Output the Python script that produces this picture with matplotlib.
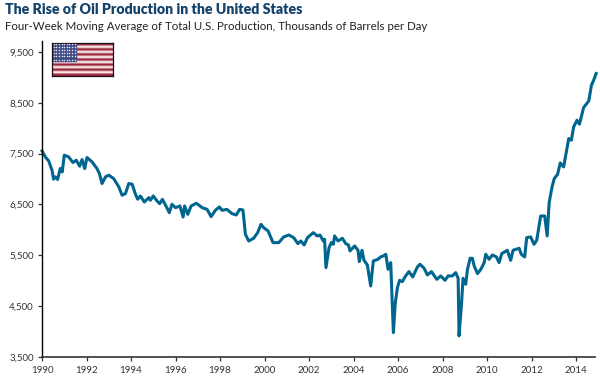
import matplotlib
matplotlib.use('Agg')
import matplotlib.pyplot as plt
import numpy as np

plt.rcParams['font.family'] = ['Lato', 'DejaVu Sans']

# Values
years = [1990.0, 1990.15, 1990.3, 1990.45, 1990.52, 1990.6, 1990.7, 1990.82, 1990.91, 1991.0,
         1991.2, 1991.39, 1991.54, 1991.69, 1991.8, 1991.92, 1992.02, 1992.25, 1992.47, 1992.58,
         1992.7, 1992.85, 1993.0, 1993.22, 1993.45, 1993.6, 1993.75, 1993.9, 1994.05, 1994.2,
         1994.3, 1994.42, 1994.6, 1994.8, 1994.87, 1995.0, 1995.17, 1995.29, 1995.41, 1995.57,
         1995.72, 1995.84, 1996.0, 1996.2, 1996.34, 1996.41, 1996.55, 1996.7, 1996.94, 1997.2,
         1997.42, 1997.6, 1997.79, 1997.97, 1998.09, 1998.31, 1998.54, 1998.73, 1998.88, 1999.03,
         1999.14, 1999.29, 1999.51, 1999.69, 1999.84, 1999.96, 2000.16, 2000.38, 2000.64, 2000.86,
         2001.09, 2001.31, 2001.5, 2001.63, 2001.78, 2001.93, 2002.19, 2002.37, 2002.49, 2002.64,
         2002.7, 2002.76, 2002.9, 2003.0, 2003.09, 2003.15, 2003.3, 2003.5, 2003.65, 2003.77,
         2003.84, 2004.05, 2004.2, 2004.26, 2004.38, 2004.47, 2004.62, 2004.77, 2004.89, 2005.1,
         2005.22, 2005.34, 2005.45, 2005.55, 2005.67, 2005.79, 2005.87, 2005.97, 2006.07, 2006.19,
         2006.34, 2006.49, 2006.66, 2006.87, 2006.99, 2007.17, 2007.32, 2007.5, 2007.74, 2007.92,
         2008.11, 2008.25, 2008.44, 2008.59, 2008.7, 2008.74, 2008.85, 2008.92, 2009.04, 2009.12,
         2009.24, 2009.34, 2009.42, 2009.57, 2009.72, 2009.87, 2009.94, 2010.09, 2010.24, 2010.42,
         2010.54, 2010.66, 2010.91, 2011.06, 2011.17, 2011.44, 2011.54, 2011.69, 2011.78, 2011.96,
         2012.11, 2012.23, 2012.41, 2012.59, 2012.7, 2012.79, 2012.92, 2013.02, 2013.17, 2013.29,
         2013.44, 2013.56, 2013.67, 2013.79, 2013.89, 2014.04, 2014.15, 2014.34, 2014.57, 2014.69,
         2014.79, 2014.9]
production = [7550, 7433, 7354, 7171, 6994, 7040, 6988, 7204, 7138, 7467,
              7433, 7322, 7368, 7250, 7381, 7204, 7421, 7335, 7204, 7106,
              6909, 7040, 7073, 7007, 6843, 6679, 6712, 6909, 6896, 6697,
              6600, 6664, 6546, 6631, 6579, 6664, 6566, 6513, 6598, 6467,
              6336, 6500, 6434, 6467, 6250, 6467, 6303, 6467, 6520, 6434,
              6400, 6257, 6382, 6447, 6382, 6400, 6316, 6290, 6400, 6388,
              5910, 5778, 5831, 5942, 6106, 6041, 5975, 5746, 5746, 5857,
              5896, 5844, 5726, 5778, 5700, 5844, 5942, 5877, 5896, 5778,
              5811, 5254, 5648, 5746, 5713, 5877, 5778, 5831, 5726, 5700,
              5582, 5680, 5595, 5372, 5595, 5398, 5306, 4893, 5385, 5418,
              5464, 5484, 5516, 5221, 5352, 3974, 4532, 4860, 5004, 4978,
              5090, 5175, 5070, 5267, 5320, 5241, 5110, 5175, 5024, 5090,
              5004, 5090, 5090, 5155, 5044, 3910, 4532, 5044, 4926, 5221,
              5438, 5438, 5287, 5136, 5221, 5352, 5516, 5418, 5503, 5464,
              5352, 5530, 5595, 5398, 5595, 5634, 5516, 5464, 5844, 5857,
              5713, 5791, 6270, 6270, 5877, 6533, 6843, 7007, 7092, 7315,
              7236, 7531, 7795, 7762, 8024, 8155, 8077, 8405, 8535, 8845,
              8942, 9075]

year_ticks = list(range(1990, 2015, 2))
value_ticks = [3500, 4500, 5500, 6500, 7500, 8500, 9500]

fig = plt.figure(figsize=(6, 3.83), dpi=100)
ax = fig.add_axes([42 / 600, 1 - 356.7 / 383, (595 - 42) / 600, (356.7 - 41.5) / 383])

ax.plot(years, production, color='#00668f', linewidth=2.2, solid_joinstyle='round', clip_on=False)

ax.set_xlim(1990, 2014.85)
ax.set_ylim(3500, 9705)
ax.set_xticks(year_ticks)
ax.set_yticks(value_ticks)
ax.set_yticklabels([f'{v:,}' for v in value_ticks])
ax.tick_params(axis='both', labelsize=7, colors='#333333', length=3, width=0.9, pad=3)
ax.tick_params(axis='x', length=3, pad=4)
ax.spines['top'].set_visible(False)
ax.spines['right'].set_visible(False)
ax.spines['left'].set_linewidth(1.0)
ax.spines['bottom'].set_linewidth(1.2)
ax.spines['bottom'].set_color('#333333')

fig.text(5 / 600, 1 - 10 / 383, 'The Rise of Oil Production in the United States',
         fontsize=10.2, fontweight='heavy', color='#14426b', va='center')
fig.text(5 / 600, 1 - 26.5 / 383, 'Four-Week Moving Average of Total U.S. Production, Thousands of Barrels per Day',
         fontsize=8.25, color='#222222', va='center')

# Flag
flag = fig.add_axes([52 / 600, 1 - 76 / 383, 61 / 600, 33 / 383])
stripes = np.arange(13).reshape(-1, 1) % 2
flag.imshow(stripes, aspect='auto', extent=(0, 1, 0, 1), cmap=matplotlib.colors.ListedColormap(['#9c2a3e', '#fbe9ea']))
flag.add_patch(plt.Rectangle((0, 6 / 13), 0.4, 7 / 13, color='#3f4a85', zorder=2))
sx, sy = np.meshgrid(np.linspace(0.03, 0.37, 9), np.linspace(0.5, 0.97, 6))
flag.scatter(sx.ravel(), sy.ravel(), s=1.2, color='#e6e6f2', linewidths=0, zorder=3)
flag.set_xlim(0, 1)
flag.set_ylim(0, 1)
flag.set_xticks([])
flag.set_yticks([])
for s in flag.spines.values():
    s.set_linewidth(0.9)
    s.set_color('#1a1014')

fig.savefig('out.png', dpi=100)
